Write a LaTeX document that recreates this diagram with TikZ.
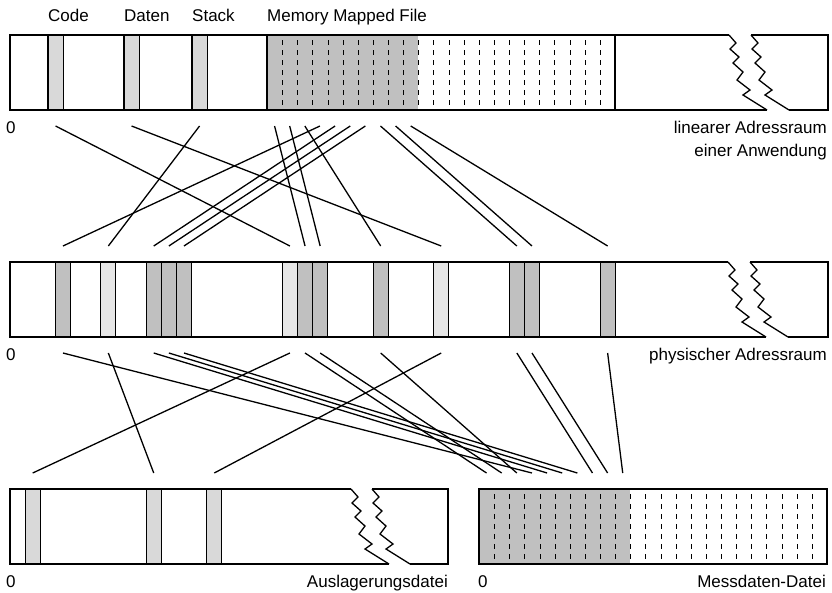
\documentclass[tikz,border=0pt]{standalone}
\usepackage{fontspec}
\setmainfont{Liberation Sans}
\usetikzlibrary{calc, positioning}

\definecolor{colGray100}{HTML}{E6E6E6}
\definecolor{colGray200}{HTML}{D9D9D9}
\definecolor{colGray300}{HTML}{C0C0C0}

\tikzset{
  bar/.style={line width=1.3pt, draw=black},
  pbox/.style={
    draw=black, line width=1.1pt, inner sep=0pt, outer sep=0pt,
    minimum width=15.13pt, minimum height=75pt, anchor=north west
  },
  pseg/.style ={pbox, fill=colGray200},
  pfile/.style={pbox, draw=none, fill=colGray300},
  pgrid/.style={line width=1pt, dash pattern=on 4.5pt off 5.5pt, dash phase=5pt},
  mline/.style={line width=1.3pt},
  tlabel/.style={font=\fontsize{17}{20}\selectfont, inner sep=0pt},
  % torn end of an address space
  tear/.pic={
    \draw[bar] (0,0) -- (7,8) -- (1,14) -- (10,22) -- (4,28) -- (14,37)
      -- (8,45) -- (21,55) -- (14,60) -- (38,75);
  }
}

\begin{document}
\begin{tikzpicture}[x=1pt, y=-1pt]
  \useasboundingbox (0,0) rectangle (832,592);

  % linear address space
  \node[pseg] (code)  at (48,35)  {};
  \node[pseg] (daten) at (124,35) {};
  \node[pseg] (stack) at (192,35) {};
  \foreach \k in {0,...,9}
    \node[pfile] (mmf\k) at ({267+15.13*\k},35) {};
  \foreach \k in {1,...,22}
    \draw[pgrid] ({round(267+15.13*\k)+0.5},35) -- ++(0,75);
  \draw[line width=1.1pt] (267,35) -- (267,110) (615,35) -- (615,110);
  \draw[bar] (729,35) -| (10,110) -- (767,110);
  \draw[bar] (751,35) -| (828,110) -- (789,110);
  \pic at (729,35) {tear};
  \pic at (751,35) {tear};

  \node[tlabel, anchor=base west] (lcode)  at ([yshift=14pt]code.north west)  {Code};
  \node[tlabel, anchor=base west] (ldaten) at ([yshift=14pt]daten.north west) {Daten};
  \node[tlabel, anchor=base west] (lstack) at ([yshift=14pt]stack.north west) {Stack};
  \node[tlabel, anchor=base west] (lmmf)   at ([yshift=14pt]mmf0.north west)  {Memory Mapped File};
  \node[tlabel, anchor=base west] (zlin) at (6,133) {0};
  \node[tlabel, anchor=base east] (llin)  at (827,133) {linearer Adressraum};
  \node[tlabel, anchor=base east] (llin2) at ([yshift=-23pt]llin.base east) {einer Anwendung};

  % physical address space
  \foreach \k/\c in {3/300, 6/100, 9/300, 10/300, 11/300, 18/100, 19/300,
                     20/300, 24/300, 28/100, 33/300, 34/300, 39/300}
    \node[pbox, fill=colGray\c] (phys\k) at ({10+15.13*\k},262) {};
  \draw[bar] (728,262) -| (10,337) -- (766,337);
  \draw[bar] (750,262) -| (828,337) -- (788,337);
  \pic at (728,262) {tear};
  \pic at (750,262) {tear};
  \node[tlabel, anchor=base west] (zphys) at (6,360) {0};
  \node[tlabel, anchor=base east] (lphys) at (827,360) {physischer Adressraum};

  % swap file
  \foreach \k in {1,9,13}
    \node[pseg] (swap\k) at ({10+15.13*\k},489) {};
  \draw[bar] (351,489) -| (10,564) -- (389,564);
  \draw[bar] (372,489) -| (448,564) -- (410,564);
  \pic at (351,489) {tear};
  \pic at (372,489) {tear};
  \node[tlabel, anchor=base west] (zswap) at (6,587) {0};
  \node[tlabel, anchor=base east] (lswap) at (448,587) {Auslagerungsdatei};

  % measurement data file
  \foreach \k in {0,...,9}
    \node[pfile] (md\k) at ({479+15.13*\k},489) {};
  \foreach \k in {1,...,22}
    \draw[pgrid] ({round(479+15.13*\k)+0.5},489) -- ++(0,75);
  \draw[bar] (479,489) rectangle (827,564);
  \node[tlabel, anchor=base west] (zmd) at (478,587) {0};
  \node[tlabel, anchor=base east] (lmd) at (826,587) {Messdaten-Datei};

  % page mappings
  \foreach \a/\b in {code/phys18, daten/phys28, stack/phys6,
                     mmf0/phys19, mmf1/phys20, mmf2/phys24, mmf3/phys3,
                     mmf4/phys9, mmf5/phys10, mmf6/phys11,
                     mmf7/phys33, mmf8/phys34, mmf9/phys39}
    \draw[mline] ([yshift=-16pt]\a.south) -- ([yshift=16pt]\b.north);
  \foreach \a/\b in {phys18/swap1, phys6/swap9, phys28/swap13,
                     phys19/md0, phys20/md1, phys24/md2, phys3/md3,
                     phys9/md4, phys10/md5, phys11/md6,
                     phys33/md7, phys34/md8, phys39/md9}
    \draw[mline] ([yshift=-16pt]\a.south) -- ([yshift=16pt]\b.north);
\end{tikzpicture}
\end{document}
